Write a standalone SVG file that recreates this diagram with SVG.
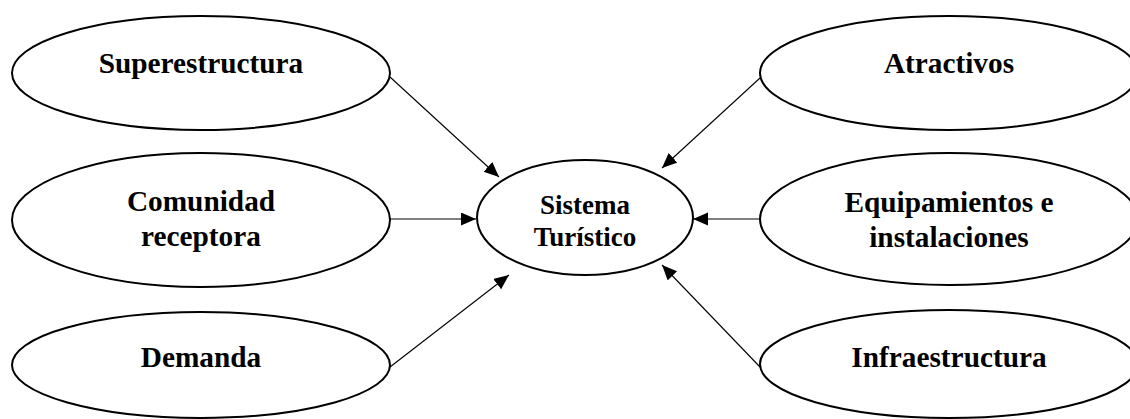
<svg xmlns="http://www.w3.org/2000/svg" width="1130" height="419" viewBox="0 0 1130 419">
<style>
.node ellipse{fill:#fff;stroke:#000;stroke-width:2}
.node text{font-family:"Liberation Serif","Times New Roman",serif;font-weight:bold;font-size:29.3px;text-anchor:middle;fill:#000}
#center text{font-size:27px}
.conn line{stroke:#000;stroke-width:1.1}
</style>
<defs>
<marker id="ah" markerUnits="userSpaceOnUse" markerWidth="16" markerHeight="14" refX="15" refY="6.5" orient="auto">
<path d="M0,0 L15,6.5 L0,13 Z" fill="#000"/>
</marker>
</defs>
<rect width="1130" height="419" fill="#fff"/>
<g class="conn">
<line x1="390" y1="77" x2="499" y2="177" marker-end="url(#ah)"/>
<line x1="760" y1="78" x2="662" y2="168" marker-end="url(#ah)"/>
<line x1="390" y1="219" x2="476" y2="219" marker-end="url(#ah)"/>
<line x1="760" y1="219" x2="693" y2="219" marker-end="url(#ah)"/>
<line x1="390" y1="367" x2="509" y2="275" marker-end="url(#ah)"/>
<line x1="760" y1="367" x2="662" y2="265" marker-end="url(#ah)"/>
</g>
<g id="superestructura" class="node"><ellipse cx="201" cy="73" rx="189" ry="57"/><text x="201" y="73">Superestructura</text></g>
<g id="comunidad" class="node"><ellipse cx="201" cy="220" rx="189" ry="67"/><text x="201" y="211">Comunidad</text><text x="201" y="246">receptora</text></g>
<g id="demanda" class="node"><ellipse cx="201" cy="365" rx="189" ry="53"/><text x="201" y="367">Demanda</text></g>
<g id="center" class="node"><ellipse cx="585" cy="217.5" rx="108" ry="57.5"/><text x="585" y="214">Sistema</text><text x="585" y="246">Turístico</text></g>
<g id="atractivos" class="node"><ellipse cx="949" cy="73" rx="189" ry="57"/><text x="949" y="73">Atractivos</text></g>
<g id="equipamientos" class="node"><ellipse cx="949" cy="219" rx="189" ry="66"/><text x="949" y="212">Equipamientos e</text><text x="949" y="247">instalaciones</text></g>
<g id="infraestructura" class="node"><ellipse cx="949" cy="364" rx="189" ry="54"/><text x="949" y="367">Infraestructura</text></g>
</svg>
